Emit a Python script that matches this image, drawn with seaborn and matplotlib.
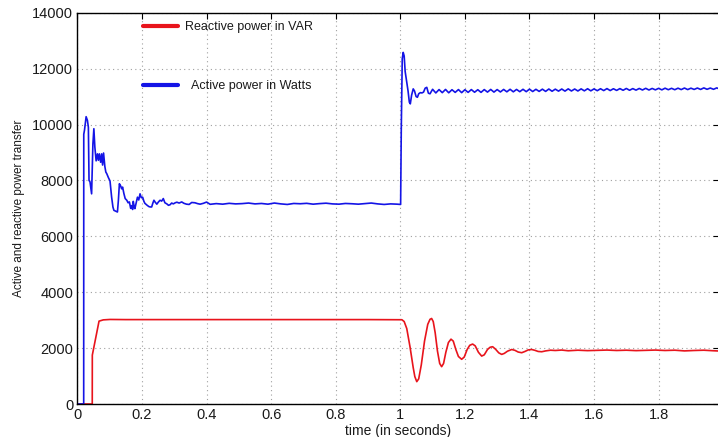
import matplotlib
matplotlib.use("Agg")
import matplotlib.pyplot as plt
import seaborn as sns
import pandas as pd

# Active power (W) over time (s)
t_active = [
    0.000, 0.0195, 0.0197, 0.022, 0.027, 0.031, 0.034, 0.036, 0.039, 0.044,
    0.048, 0.051, 0.054, 0.058, 0.062, 0.065, 0.068, 0.072, 0.075, 0.078,
    0.081, 0.085, 0.088, 0.091, 0.096, 0.101, 0.106, 0.110, 0.113, 0.124,
    0.127, 0.130, 0.134, 0.137, 0.140, 0.144, 0.148, 0.153, 0.157, 0.161,
    0.165, 0.168, 0.171, 0.173, 0.176, 0.178, 0.182, 0.186, 0.190, 0.194,
    0.198, 0.202, 0.206, 0.209, 0.213, 0.217, 0.222, 0.226, 0.230, 0.234,
    0.237, 0.241, 0.246, 0.251, 0.256, 0.261, 0.266, 0.271, 0.277, 0.282,
    0.287, 0.292, 0.297, 0.303, 0.308, 0.315, 0.323, 0.330, 0.338, 0.346,
    0.354, 0.364, 0.372, 0.380, 0.390, 0.400, 0.411,
    0.43, 0.45, 0.47, 0.49, 0.51, 0.53, 0.55, 0.57, 0.59, 0.61,
    0.63, 0.65, 0.67, 0.69, 0.71, 0.73, 0.75, 0.77, 0.79, 0.81,
    0.83, 0.85, 0.87, 0.89, 0.91, 0.93, 0.95, 0.97, 0.99, 1.001,
    1.003, 1.006, 1.009, 1.012, 1.015, 1.019, 1.024, 1.028, 1.031, 1.035,
    1.040, 1.044, 1.049, 1.053, 1.057, 1.062, 1.067, 1.072, 1.077, 1.082,
    1.087, 1.092,
    1.10, 1.11, 1.12, 1.13, 1.14, 1.15, 1.16, 1.17, 1.18, 1.19,
    1.20, 1.21, 1.22, 1.23, 1.24, 1.25, 1.26, 1.27, 1.28, 1.29,
    1.30, 1.31, 1.32, 1.33, 1.34, 1.35, 1.36, 1.37, 1.38, 1.39,
    1.40, 1.41, 1.42, 1.43, 1.44, 1.45, 1.46, 1.47, 1.48, 1.49,
    1.50, 1.51, 1.52, 1.53, 1.54, 1.55, 1.56, 1.57, 1.58, 1.59,
    1.60, 1.61, 1.62, 1.63, 1.64, 1.65, 1.66, 1.67, 1.68, 1.69,
    1.70, 1.71, 1.72, 1.73, 1.74, 1.75, 1.76, 1.77, 1.78, 1.79,
    1.80, 1.81, 1.82, 1.83, 1.84, 1.85, 1.86, 1.87, 1.88, 1.89,
    1.90, 1.91, 1.92, 1.93, 1.94, 1.95, 1.96, 1.97, 1.98, 1.99,
]
p_active = [
    0, 0, 9650, 9800, 10280, 10150, 9900, 8000, 7950, 7520,
    9300, 9850, 9200, 8700, 8950, 8720, 8950, 8650, 8950, 8550,
    8980, 8500, 8300, 8240, 8100, 7980, 7400, 7050, 6930, 6870,
    7300, 7880, 7800, 7700, 7760, 7530, 7350, 7290, 7200, 7230,
    7000, 7100, 6960, 7250, 7050, 6990, 7200, 7400, 7300, 7520,
    7380, 7400, 7250, 7180, 7140, 7100, 7060, 7050, 7050, 7200,
    7290, 7220, 7150, 7230, 7290, 7260, 7350, 7200, 7160, 7110,
    7130, 7190, 7160, 7200, 7220, 7190, 7230, 7180, 7150, 7140,
    7210, 7200, 7170, 7150, 7180, 7225, 7145,
    7170, 7150, 7180, 7160, 7170, 7190, 7160, 7175, 7150, 7190,
    7160, 7140, 7175, 7165, 7180, 7150, 7170, 7185, 7160, 7150,
    7175, 7165, 7150, 7170, 7190, 7160, 7140, 7160, 7150, 7140,
    9800, 12350, 12580, 12450, 11900, 11600, 11200, 10800, 10740, 11050,
    11275, 11200, 11000, 10975, 11100, 11140, 11130, 11160, 11300, 11330,
    11120, 11100,
    11260, 11130, 11250, 11140, 11255, 11135, 11245, 11150, 11250, 11140,
    11245, 11150, 11250, 11155, 11245, 11150, 11250, 11160, 11255, 11160,
    11250, 11165, 11255, 11170, 11260, 11170, 11255, 11175, 11260, 11175,
    11265, 11180, 11260, 11185, 11265, 11185, 11270, 11190, 11265, 11195,
    11270, 11195, 11275, 11200, 11270, 11200, 11275, 11205, 11280, 11205,
    11275, 11210, 11280, 11215, 11285, 11215, 11280, 11220, 11285, 11225,
    11290, 11225, 11285, 11230, 11290, 11235, 11295, 11235, 11290, 11240,
    11295, 11240, 11300, 11245, 11295, 11245, 11300, 11250, 11305, 11250,
    11300, 11255, 11305, 11255, 11310, 11260, 11305, 11260, 11310, 11265,
]

# Reactive power (VAR) over time (s)
t_reactive = [
    0.000, 0.046, 0.0462, 0.067, 0.080, 0.101, 0.15, 0.3, 0.5, 0.7,
    0.9, 1.005, 1.012, 1.020, 1.030, 1.040, 1.045, 1.051, 1.057, 1.065,
    1.075, 1.085, 1.092, 1.097, 1.102, 1.108, 1.115, 1.122, 1.128, 1.134,
    1.141, 1.149, 1.157, 1.164, 1.172, 1.180, 1.190, 1.198, 1.207, 1.215,
    1.224, 1.232, 1.242, 1.252, 1.260, 1.270, 1.278, 1.286, 1.295, 1.305,
    1.314, 1.322, 1.332, 1.345, 1.355, 1.365, 1.376, 1.386, 1.396, 1.407,
    1.417, 1.427, 1.438, 1.45, 1.465, 1.48, 1.50, 1.52, 1.55, 1.58,
    1.61, 1.64, 1.67, 1.70, 1.73, 1.76, 1.79, 1.82, 1.85, 1.88,
    1.91, 1.94, 1.97, 1.99,
]
q_reactive = [
    0, 0, 1750, 2965, 3010, 3025, 3020, 3020, 3020, 3020,
    3020, 3015, 2950, 2700, 2050, 1300, 980, 800, 900, 1400,
    2250, 2850, 3030, 3060, 2950, 2550, 1900, 1450, 1335, 1450,
    1850, 2200, 2320, 2250, 1950, 1700, 1600, 1680, 1950, 2100,
    2145, 2080, 1850, 1715, 1760, 1950, 2030, 2050, 1960, 1830,
    1775, 1810, 1890, 1950, 1920, 1860, 1835, 1880, 1935, 1950,
    1920, 1880, 1870, 1900, 1925, 1915, 1930, 1905, 1925, 1910,
    1920, 1930, 1915, 1925, 1910, 1920, 1930, 1915, 1925, 1900,
    1915, 1925, 1905, 1895,
]

x_ticks = [0, 0.2, 0.4, 0.6, 0.8, 1, 1.2, 1.4, 1.6, 1.8]
x_tick_labels = ["0", "0.2", "0.4", "0.6", "0.8", "1", "1.2", "1.4", "1.6", "1.8"]
y_ticks = [0, 2000, 4000, 6000, 8000, 10000, 12000, 14000]

red = "#e8141c"
blue = "#1414e6"

sns.set_theme(style="white")
plt.rcParams["font.family"] = ["Liberation Sans", "DejaVu Sans"]

fig = plt.figure(figsize=(7.18, 4.37), dpi=100)
ax = fig.add_axes([0.1078, 0.0755, 0.8936, 0.8954])

df_q = pd.DataFrame({"t": t_reactive, "q": q_reactive})
df_p = pd.DataFrame({"t": t_active, "p": p_active})

sns.lineplot(data=df_q, x="t", y="q", ax=ax, color=red, linewidth=1.2,
             sort=False, estimator=None, label="Reactive power in VAR")
sns.lineplot(data=df_p, x="t", y="p", ax=ax, color=blue, linewidth=1.2,
             sort=False, estimator=None, label="Active power in Watts")

ax.set_xlim(0, 1.987)
ax.set_ylim(0, 14000)
ax.set_xticks(x_ticks)
ax.set_xticklabels(x_tick_labels)
ax.set_yticks(y_ticks)
ax.tick_params(direction="in", length=4, width=0.8, top=True, right=True,
               labelsize=10.5, colors="black", pad=3)
for lbl in ax.get_xticklabels() + ax.get_yticklabels():
    lbl.set_color("#1a1a1a")

ax.grid(True, color="#a0a0a0", linestyle=(0, (1, 3)), linewidth=0.8)
for side in ["left", "bottom", "top", "right"]:
    ax.spines[side].set_color("black")
    ax.spines[side].set_linewidth(1.0)

ax.set_xlabel("time (in seconds)", fontsize=10, color="#1a1a1a", labelpad=1)
ax.set_ylabel("Active and reactive power transfer", fontsize=8.5, color="#1a1a1a", labelpad=5)

# two separate frameless legend entries
lines = ax.get_lines()
leg1 = ax.legend([lines[0]], ["Reactive power in VAR"], loc="center left",
                 bbox_to_anchor=(0.102, 0.963), frameon=False, fontsize=9,
                 handlelength=2.8, handletextpad=0.6, borderaxespad=0, borderpad=0)
leg1.get_lines()[0].set_linewidth(3)
ax.add_artist(leg1)
leg2 = ax.legend([lines[1]], ["Active power in Watts"], loc="center left",
                 bbox_to_anchor=(0.102, 0.813), frameon=False, fontsize=9,
                 handlelength=2.8, handletextpad=1.06, borderaxespad=0, borderpad=0)
leg2.get_lines()[0].set_linewidth(3)
for leg in (leg1, leg2):
    for txt in leg.get_texts():
        txt.set_color("#1a1a1a")

fig.savefig("out.png", dpi=100)
